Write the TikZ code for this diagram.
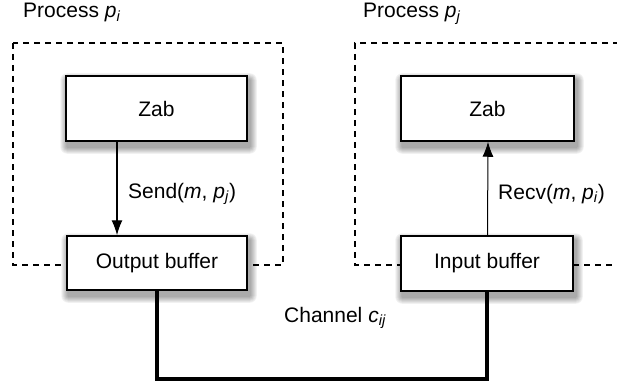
\documentclass[tikz,border=0pt]{standalone}
\usepackage{fontspec}
\setmainfont{Liberation Sans}
\usetikzlibrary{arrows.meta,backgrounds}
\begin{document}
\begin{tikzpicture}[x=1pt,y=-1pt,
  every node/.style={font=\fontsize{21}{25}\selectfont},
  box/.style={draw=black,line width=1.5pt,fill=white,inner sep=0pt},
  shade layer/.style={fill=black,fill opacity=0.055},
  procline/.style={dashed,dash pattern=on 6pt off 5pt,line width=1.2pt},
  msg/.style={line width=1.3pt,-{Latex[length=15pt,width=11pt]}},
  chan/.style={line width=4pt,line join=miter},
  lbl/.style={anchor=base west,inner sep=0pt}
]
\useasboundingbox (0,0) rectangle (617,385);
% dashed process boundaries
\draw[procline] (13,43) rectangle (283,265);
\draw[procline] (630,43) -- (355,43) -- (355,265) -- (630,265);
% boxes
\node[box,minimum width=181pt,minimum height=65pt] (zab1) at (156.5,108.5) {Zab};
\node[box,minimum width=180pt,minimum height=54pt] (out) at (157,263) {Output buffer};
\node[box,minimum width=173pt,minimum height=65pt] (zab2) at (487.5,108.5) {Zab};
\node[box,minimum width=172pt,minimum height=55pt] (in) at (487,263.5) {Input buffer};
% soft shadows
\begin{scope}[on background layer]
\foreach \n in {zab1,out,zab2,in}{
  \foreach \r in {1,2,...,7}{
    \fill[shade layer,rounded corners=\r pt]
      ([shift={(2-\r,5+\r)}]\n.south west) rectangle ([shift={(2+\r,5-\r)}]\n.north east);
  }
}
\end{scope}
% labels
\node[lbl] (lpi) at (23,18) {Process \textit{p}\textsubscript{\textit{i}}};
\node[lbl] (lpj) at (363,18) {Process \textit{p}\textsubscript{\textit{j}}};
\node[lbl] (lsend) at (128,198) {Send(\textit{m}, \textit{p}\textsubscript{\textit{j}})};
\node[lbl] (lrecv) at (498,199) {Recv(\textit{m}, \textit{p}\textsubscript{\textit{i}})};
\node[lbl] (lchan) at (284,322) {Channel \textit{c}\textsubscript{\textit{ij}}};
% messages
\draw[msg] ([xshift=-39.5pt]zab1.south) -- ([xshift=-40pt]out.north);
\draw[msg,line width=1pt] ([xshift=0.5pt]in.north) -- ([xshift=0.5pt]zab2.south);
% channel
\draw[chan] (out.south) -- ++(0,88) -| (in.south);
\end{tikzpicture}
\end{document}
